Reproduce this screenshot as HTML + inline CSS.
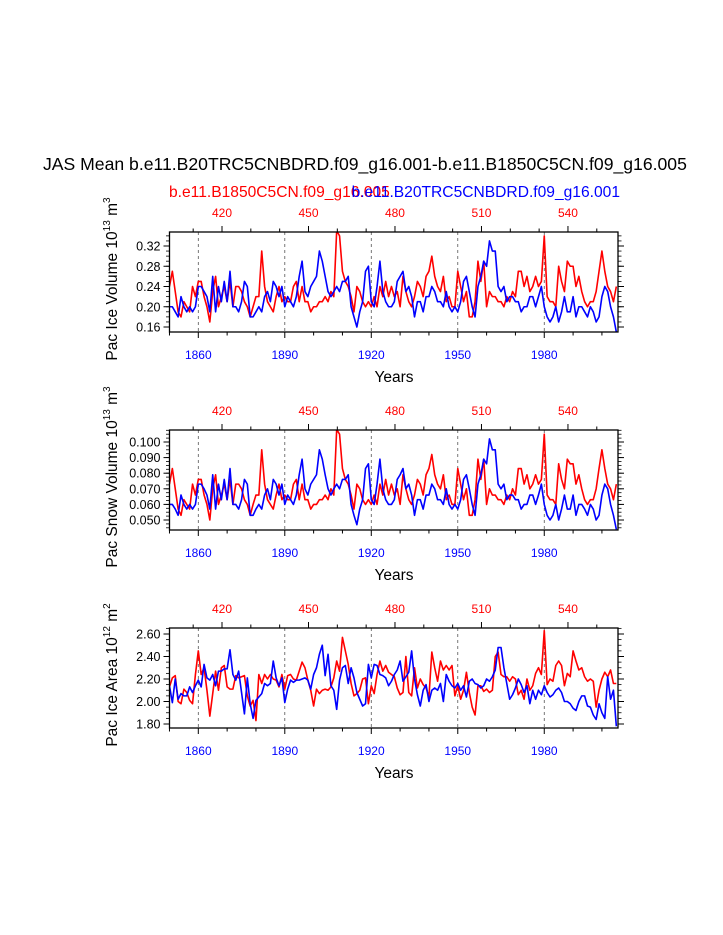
<!DOCTYPE html>
<html><head><meta charset="utf-8">
<style>
html,body{margin:0;padding:0;background:#fff;}
svg{display:block;font-family:"Liberation Sans",Arial,sans-serif;}
</style></head>
<body>
<svg id="chart" width="723" height="935" viewBox="0 0 723 935" xmlns="http://www.w3.org/2000/svg">
<rect width="723" height="935" fill="#fff"/>
<text x="43" y="170" font-size="17.6" text-anchor="start" fill="#000">JAS Mean b.e11.B20TRC5CNBDRD.f09_g16.001-b.e11.B1850C5CN.f09_g16.005</text>
<text x="169" y="197" font-size="15.6" fill="#ff0000">b.e11.B1850C5CN.f09_g16.005</text>
<text x="620" y="197" font-size="15.6" fill="#0000ff" text-anchor="end">b.e11.B20TRC5CNBDRD.f09_g16.001</text>
<g id="plots"></g>
</svg>
<script>
const years0 = 1850;
const bottomTicks = [1860,1890,1920,1950,1980];
const topTicks = [420,450,480,510,540];

const iceVolRed = [.24,.27,.23,.19,.18,.21,.20,.19,.24,.22, .25,.25,.22,.20,.17,.23,.26,.20,.22,.24, .21,.25,.20,.24,.24,.23,.21,.20,.18,.20, .22,.22,.31,.24,.21,.20,.19,.22,.24,.21, .22,.21,.21,.24,.25,.21,.24,.21,.21,.19, .20,.20,.21,.21,.22,.21,.23,.22,.35,.34, .27,.25,.24,.22,.19,.24,.23,.21,.20,.21, .20,.22,.20,.24,.22,.25,.22,.24,.22,.23, .20,.26,.23,.21,.20,.22,.25,.24,.22,.26, .27,.30,.26,.24,.23,.26,.21,.22,.20,.20, .27,.24,.21,.23,.18,.18,.21,.29,.25,.29, .20,.23,.22,.22,.21,.21,.20,.22,.21,.23, .22,.27,.27,.24,.26,.23,.24,.26,.24,.25, .34,.22,.21,.21,.20,.28,.25,.23,.29,.28, .28,.24,.26,.23,.21,.20,.21,.21,.23,.27, .31,.27,.24,.23,.21,.24];
const iceVolBlue = [.20,.20,.19,.18,.22,.20,.19,.20,.19,.20, .24,.24,.23,.22,.19,.26,.19,.24,.21,.25, .21,.27,.20,.20,.19,.21,.25,.24,.18,.18, .19,.20,.19,.22,.23,.21,.25,.24,.22,.24, .20,.22,.21,.20,.22,.26,.29,.23,.22,.24, .25,.26,.31,.29,.26,.23,.22,.23,.24,.23, .25,.25,.26,.20,.18,.16,.19,.21,.27,.28, .21,.20,.24,.29,.23,.21,.20,.20,.21,.25, .26,.27,.23,.24,.22,.18,.21,.21,.19,.22, .22,.24,.23,.21,.21,.20,.23,.20,.19,.20, .19,.21,.25,.26,.23,.20,.18,.24,.26,.29, .28,.33,.31,.31,.24,.23,.24,.21,.22,.22, .21,.21,.19,.20,.20,.22,.22,.20,.22,.24, .20,.18,.17,.18,.20,.17,.19,.22,.19,.19, .22,.18,.20,.20,.19,.18,.20,.19,.17,.18, .22,.24,.23,.20,.18,.15];

const snowRed = [.073,.083,.070,.057,.053,.063,.060,.057,.073,.066, .076,.076,.066,.060,.050,.070,.079,.060,.066,.073, .063,.076,.060,.073,.073,.070,.063,.060,.053,.060, .066,.066,.095,.073,.063,.060,.057,.066,.073,.063, .066,.063,.063,.073,.076,.063,.073,.063,.063,.057, .060,.060,.063,.063,.066,.063,.070,.066,.108,.105, .083,.076,.073,.066,.057,.073,.070,.063,.060,.063, .060,.066,.060,.073,.066,.076,.066,.073,.066,.070, .060,.079,.070,.063,.060,.066,.076,.073,.066,.079, .083,.092,.079,.073,.070,.079,.063,.066,.060,.060, .083,.073,.063,.070,.053,.053,.063,.089,.076,.089, .060,.070,.066,.066,.063,.063,.060,.066,.063,.070, .066,.083,.083,.073,.079,.070,.073,.079,.073,.076, .105,.066,.063,.063,.060,.086,.076,.070,.089,.086, .086,.073,.079,.070,.063,.060,.063,.063,.070,.083, .095,.083,.073,.070,.063,.073];
const snowBlue = [.060,.060,.057,.053,.066,.060,.057,.060,.057,.060, .073,.073,.070,.066,.057,.079,.057,.073,.063,.076, .063,.083,.060,.060,.057,.063,.076,.073,.053,.053, .057,.060,.057,.066,.070,.063,.076,.073,.066,.073, .060,.066,.063,.060,.066,.079,.089,.070,.066,.073, .076,.079,.095,.089,.079,.070,.066,.070,.073,.070, .076,.076,.079,.060,.053,.047,.057,.063,.083,.086, .063,.060,.073,.089,.070,.063,.060,.060,.063,.076, .079,.083,.070,.073,.066,.053,.063,.063,.057,.066, .066,.073,.070,.063,.063,.060,.070,.060,.057,.060, .057,.063,.076,.079,.070,.060,.053,.073,.079,.089, .086,.102,.095,.095,.073,.070,.073,.063,.066,.066, .063,.063,.057,.060,.060,.066,.066,.060,.066,.073, .060,.053,.050,.053,.060,.050,.057,.066,.057,.057, .066,.053,.060,.060,.057,.053,.060,.057,.050,.053, .066,.073,.070,.060,.053,.044];

const areaRed = [2.13,2.21,2.23,2.00,1.98,2.11,2.08,2.01,1.98,2.24, 2.45,2.24,2.30,2.10,1.87,2.07,2.27,2.10,2.30,2.32, 2.13,2.11,2.11,2.23,2.21,2.22,2.23,2.05,1.96,2.01, 1.83,2.24,2.16,2.24,2.20,2.24,2.20,2.19,2.13,2.24, 2.11,2.23,2.24,2.20,2.19,2.27,2.35,2.30,2.19,2.10, 1.96,2.11,2.07,2.10,2.11,2.10,2.13,2.21,2.36,2.27, 2.57,2.45,2.33,2.16,2.05,2.07,2.10,2.20,2.21,1.98, 2.14,2.07,2.24,2.36,2.27,2.32,2.26,2.24,2.22,2.12, 2.06,2.08,2.40,2.08,2.05,2.30,2.12,2.20,2.15,2.12, 2.04,2.44,2.30,2.18,2.36,2.28,2.32,2.28,2.32,2.05, 2.14,2.02,2.10,2.26,2.08,1.95,1.88,2.14,2.14,2.09, 2.11,2.08,2.10,2.40,2.44,2.24,2.22,2.22,2.18,2.22, 2.20,2.06,2.10,2.02,2.20,2.10,2.14,2.25,2.30,2.24, 2.63,2.15,2.20,2.18,2.32,2.36,2.32,2.14,2.25,2.22, 2.45,2.36,2.28,2.30,2.22,2.18,2.20,2.18,1.95,2.10, 2.20,2.26,2.22,2.28,2.16,2.16];
const areaBlue = [2.14,1.99,2.20,2.02,2.07,2.05,2.05,2.13,2.08,2.14, 2.19,2.13,2.33,2.21,2.19,2.24,2.14,2.27,2.27,2.29, 2.29,2.46,2.24,2.19,2.27,2.08,1.89,2.21,1.98,1.85, 2.01,2.04,2.07,2.16,2.14,2.16,2.36,2.21,2.14,2.21, 1.99,2.11,2.19,2.17,2.19,2.19,2.20,2.21,2.19,2.11, 2.24,2.30,2.42,2.50,2.23,2.42,2.14,2.10,1.93,2.19, 2.30,2.32,2.16,2.30,2.21,2.08,2.02,1.96,1.98,2.33, 2.21,2.33,2.32,2.24,2.23,2.21,2.14,2.18,2.24,2.28, 2.36,2.18,2.22,2.26,2.45,2.20,2.06,1.96,2.10,2.15, 2.00,2.10,2.12,2.10,2.16,2.00,2.24,2.18,2.14,2.12, 2.16,2.10,2.14,2.04,2.18,2.20,2.16,2.15,2.12,2.14, 2.20,2.18,2.22,2.28,2.48,2.48,2.30,2.16,2.02,2.06, 2.12,2.20,2.15,2.08,2.14,1.98,2.10,2.02,2.10,2.06, 2.14,2.08,2.04,2.06,2.10,2.12,2.08,2.00,2.00,1.98, 1.94,1.92,2.00,2.05,2.05,1.96,1.95,1.88,1.84,1.98, 1.90,1.85,2.22,2.02,2.10,1.78];

const p1Ticks = [0.16,0.20,0.24,0.28,0.32];
const p2Ticks = [0.050,0.060,0.070,0.080,0.090,0.100];
const p3Ticks = [1.80,2.00,2.20,2.40,2.60];

const NS = "http://www.w3.org/2000/svg";
const root = document.getElementById('plots');
function mk(tag, attrs, parent){const e=document.createElementNS(NS,tag);for(const k in attrs)e.setAttribute(k,attrs[k]);(parent||root).appendChild(e);return e;}

const X0=169.5, X1=618, PX=2.883;
function xScale(yr){return 198.3+(yr-1860)*PX;}
function xTop(my){return 222+(my-420)*PX;}

const panels = [
 {name:'ice-volume',top:232,bot:332,refV:0.32,refY:246,ppu:506.25,ticks:p1Ticks,minor:0.01,dec:2,red:iceVolRed,blue:iceVolBlue,title:'Pac Ice Volume 10',exp:'13',unit:' m',uexp:'3'},
 {name:'snow-volume',top:430,bot:530,refV:0.100,refY:442,ppu:1560,ticks:p2Ticks,minor:0.0025,dec:3,red:snowRed,blue:snowBlue,title:'Pac Snow Volume 10',exp:'13',unit:' m',uexp:'3'},
 {name:'ice-area',top:628,bot:728,refV:2.60,refY:634,ppu:112.5,ticks:p3Ticks,minor:0.05,dec:2,red:areaRed,blue:areaBlue,title:'Pac Ice Area 10',exp:'12',unit:' m',uexp:'2'}
];

panels.forEach(p=>{
  const g=mk('g',{});
  
  
  const yS=v=>p.refY+(p.refV-v)*p.ppu;
  const cid='clip-'+p.name;
  const cp=mk('clipPath',{id:cid},g); mk('rect',{x:X0,y:p.top,width:X1-X0,height:p.bot-p.top},cp);
  bottomTicks.forEach(t=>{
    const l=mk('line',{x1:xScale(t),x2:xScale(t),y1:p.top,y2:p.bot,stroke:'#555','stroke-width':0.8,'stroke-dasharray':'3,3'},g);
    
    
  });
  [['red',p.red,'#ff0000'],['blue',p.blue,'#0000ff']].forEach(([nm,arr,col])=>{
    const d=arr.map((v,i)=>(i?'L':'M')+xScale(years0+i).toFixed(2)+','+yS(v).toFixed(2)).join('');
    const path=mk('path',{d:d,fill:'none',stroke:col,'stroke-width':1.6,'stroke-linejoin':'round','clip-path':'url(#'+cid+')'},g);
    
    
  });
  const fr=mk('rect',{x:X0,y:p.top,width:X1-X0,height:p.bot-p.top,fill:'none',stroke:'#000','stroke-width':1.3},g);
  
  
  for(let yr=1850;yr<=2000;yr+=10){
    const x=xScale(yr); const maj=bottomTicks.includes(yr);
    mk('line',{x1:x,x2:x,y1:p.bot,y2:p.bot+(maj?6:3.5),stroke:'#000','stroke-width':1},g);
  }
  bottomTicks.forEach(t=>{
    const tx=mk('text',{x:xScale(t),y:p.bot+27,'font-size':12,'text-anchor':'middle',fill:'#0000ff'},g);
    tx.textContent=t;
    
    
  });
  for(let my=410;my<=560;my+=10){
    const x=xTop(my); if(x<X0||x>X1) continue; const maj=topTicks.includes(my);
    mk('line',{x1:x,x2:x,y1:p.top,y2:p.top-(maj?6:3.5),stroke:'#000','stroke-width':1},g);
  }
  topTicks.forEach(t=>{
    const tx=mk('text',{x:xTop(t),y:p.top-15,'font-size':12,'text-anchor':'middle',fill:'#ff0000'},g);
    tx.textContent=t;
    
    
  });
  const vTop=p.refV+(p.refY-p.top)/p.ppu, vBot=p.refV-(p.bot-p.refY)/p.ppu;
  const start=Math.ceil(vBot/p.minor-1e-6);
  for(let k=start;k*p.minor<=vTop+1e-9;k++){
    const y=yS(k*p.minor);
    mk('line',{x1:X0,x2:X0-3.5,y1:y,y2:y,stroke:'#000','stroke-width':0.8},g);
    mk('line',{x1:X1,x2:X1+3.5,y1:y,y2:y,stroke:'#000','stroke-width':0.8},g);
  }
  p.ticks.forEach(v=>{
    const y=yS(v);
    mk('line',{x1:X0,x2:X0-6,y1:y,y2:y,stroke:'#000','stroke-width':1},g);
    mk('line',{x1:X1,x2:X1+6,y1:y,y2:y,stroke:'#000','stroke-width':1},g);
    const tx=mk('text',{x:X0-9,y:y+4.5,'font-size':12.5,'text-anchor':'end',fill:'#000'},g);
    tx.textContent=v.toFixed(p.dec);
    
    
  });
  const xt=mk('text',{x:394,y:p.bot+50,'font-size':15.5,'text-anchor':'middle',fill:'#000'},g);
  xt.textContent='Years';
  
  
  const cy=(p.top+p.bot)/2 - 3;
  const yt=mk('text',{x:0,y:0,'font-size':15.5,'text-anchor':'middle',fill:'#000',transform:'translate(117,'+cy+') rotate(-90)'},g);
  
  
  const s1=document.createElementNS(NS,'tspan'); s1.textContent=p.title; yt.appendChild(s1);
  const s2=document.createElementNS(NS,'tspan'); s2.setAttribute('dy','-7'); s2.setAttribute('font-size','10'); s2.textContent=p.exp; yt.appendChild(s2);
  const s3=document.createElementNS(NS,'tspan'); s3.setAttribute('dy','7'); s3.textContent=p.unit; yt.appendChild(s3);
  const s4=document.createElementNS(NS,'tspan'); s4.setAttribute('dy','-7'); s4.setAttribute('font-size','10'); s4.textContent=p.uexp; yt.appendChild(s4);
});
</script>
</body></html>
